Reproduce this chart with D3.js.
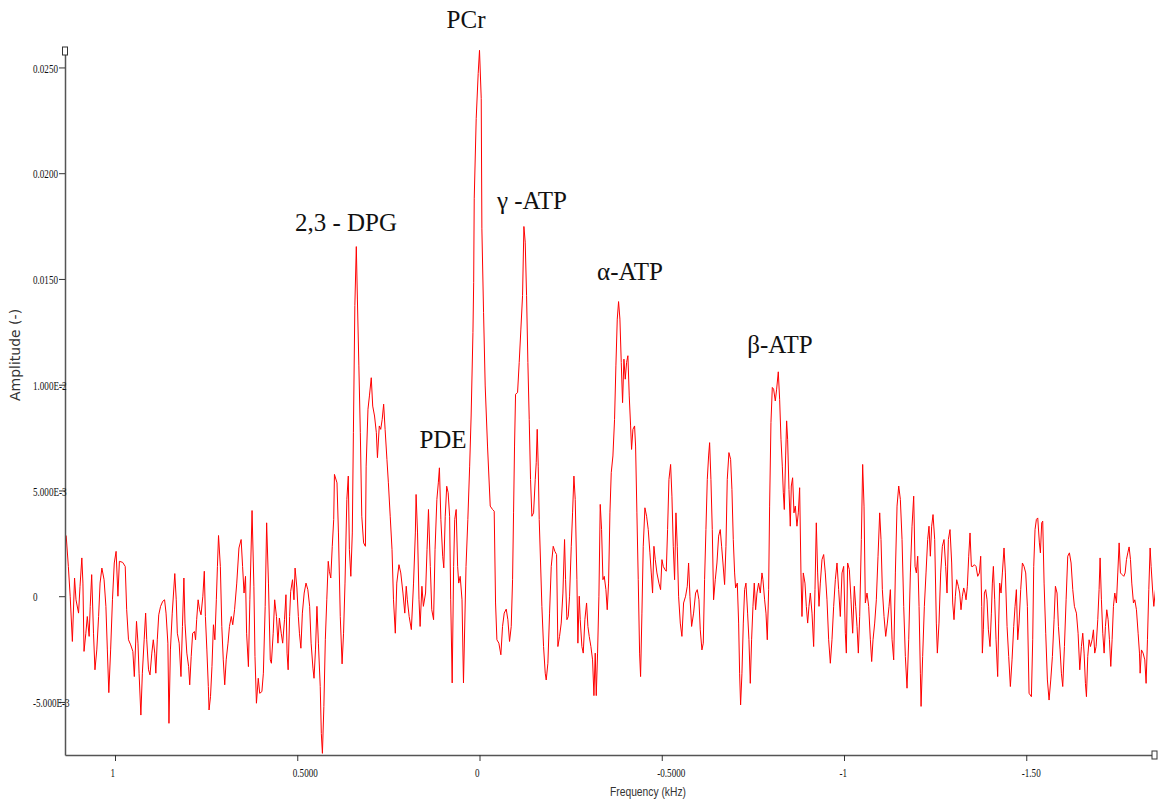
<!DOCTYPE html>
<html>
<head>
<meta charset="utf-8">
<script src="https://cdn.jsdelivr.net/npm/d3@7"></script>
<style>
  body { margin: 0; background: #fff; }
  #chart { width: 1158px; height: 803px; }
</style>
</head>
<body>
<div id="chart"></div>
<script>
// spectrum samples, frequency in kHz, amplitude in units of 1e-3
const freqKHz = [
  1.134,1.128,1.123,1.117,1.111,1.107,1.100,1.096,1.091,1.088,1.085,1.080,
  1.076,1.071,1.068,1.064,1.059,1.055,1.050,1.045,1.041,1.036,1.030,1.025,
  1.021,1.017,1.012,1.007,1.002,0.997,0.992,0.988,0.979,0.972,0.968,0.963,
  0.957,0.951,0.947,0.941,0.937,0.934,0.929,0.925,0.920,0.916,0.913,0.908,
  0.904,0.899,0.895,0.891,0.888,0.884,0.880,0.875,0.869,0.864,0.860,0.855,
  0.852,0.848,0.843,0.836,0.832,0.829,0.824,0.819,0.815,0.811,0.808,0.803,
  0.798,0.795,0.791,0.787,0.782,0.779,0.776,0.772,0.768,0.764,0.759,0.755,
  0.752,0.748,0.744,0.742,0.738,0.734,0.730,0.726,0.722,0.719,0.716,0.711,
  0.707,0.703,0.699,0.695,0.690,0.686,0.681,0.677,0.672,0.666,0.660,0.654,
  0.650,0.646,0.642,0.639,0.634,0.630,0.624,0.619,0.616,0.612,0.607,0.603,
  0.597,0.593,0.588,0.584,0.579,0.574,0.571,0.566,0.562,0.557,0.553,0.549,
  0.544,0.540,0.535,0.531,0.528,0.525,0.521,0.518,0.513,0.509,0.506,0.501,
  0.497,0.494,0.490,0.486,0.481,0.476,0.471,0.466,0.462,0.457,0.454,0.450,
  0.446,0.442,0.437,0.434,0.431,0.427,0.423,0.419,0.415,0.412,0.408,0.404,0.400,
  0.398,0.391,0.387,0.382,0.377,0.373,0.369,0.364,0.360,0.357,0.353,0.349,
  0.346,0.342,0.338,0.335,0.331,0.327,0.323,0.318,0.313,0.311,0.306,0.302,
  0.297,0.293,0.288,0.283,0.280,0.275,0.271,0.267,0.263,0.259,0.254,0.250,
  0.245,0.240,0.236,0.231,0.227,0.221,0.216,0.210,0.205,0.201,0.198,0.193,
  0.187,0.181,0.176,0.174,0.170,0.166,0.163,0.158,0.154,0.148,0.144,0.140,
  0.135,0.131,0.126,0.122,0.117,0.113,0.110,0.106,0.101,0.098,0.094,0.090,
  0.086,0.082,0.079,0.075,0.071,0.068,0.064,0.060,0.057,0.053,0.048,0.044,
  0.037,0.032,0.027,0.023,0.018,0.016,0.0145,0.0091,0.0036,0.0,-0.0047,
  -0.0065,-0.0111,-0.0156,-0.0220,-0.0294,-0.0358,-0.0403,-0.0440,-0.0477,-0.0531,-0.0586,-0.0632,
  -0.0678,-0.0733,-0.0778,-0.0824,-0.0870,-0.0907,-0.0934,-0.0961,-0.0989,-0.1044,-0.1089,-0.1135,
  -0.1181,-0.1218,-0.1254,-0.1291,-0.1327,-0.1364,-0.1400,-0.1437,-0.1483,-0.1529,-0.1556,-0.1583,
  -0.1611,-0.1638,-0.1675,-0.1711,-0.1757,-0.1803,-0.1830,-0.1876,-0.1922,-0.1968,-0.2022,-0.2068,
  -0.2114,-0.2150,-0.2196,-0.2242,-0.2288,-0.2333,-0.2361,-0.2398,-0.2434,-0.2471,-0.2517,-0.2553,
  -0.2590,-0.2626,-0.2672,-0.2699,-0.2736,-0.2763,-0.2809,-0.2846,-0.2891,-0.2937,-0.2974,-0.3010,
  -0.3056,-0.3102,-0.3139,-0.3175,-0.3203,-0.3239,-0.3276,-0.3312,-0.3349,-0.3386,-0.3422,-0.3468,
  -0.3504,-0.3541,-0.3578,-0.3614,-0.3660,-0.3705,-0.3742,-0.3779,-0.3815,-0.3852,-0.3889,-0.3925,
  -0.3962,-0.3998,-0.4035,-0.4071,-0.4108,-0.4145,-0.4172,-0.4209,-0.4254,-0.4282,-0.4318,-0.4355,
  -0.4392,-0.4419,-0.4456,-0.4492,-0.4538,-0.4584,-0.4629,-0.4675,-0.4712,-0.4748,-0.4785,-0.4822,
  -0.4867,-0.4922,-0.4968,-0.5005,-0.5041,-0.5087,-0.5124,-0.5160,-0.5197,-0.5243,-0.5279,-0.5316,
  -0.5352,-0.5389,-0.5425,-0.5462,-0.5508,-0.5553,-0.5599,-0.5654,-0.5700,-0.5736,-0.5773,-0.5819,
  -0.5873,-0.5928,-0.5974,-0.6020,-0.6056,-0.6102,-0.6139,-0.6175,-0.6212,-0.6249,-0.6285,-0.6313,
  -0.6349,-0.6386,-0.6422,-0.6468,-0.6514,-0.6560,-0.6605,-0.6642,-0.6679,-0.6724,-0.6761,-0.6797,-0.6843,
  -0.6889,-0.6925,-0.6962,-0.6999,-0.7026,-0.7072,-0.7109,-0.7136,-0.7163,-0.7200,-0.7237,-0.7273,
  -0.7310,-0.7355,-0.7392,-0.7429,-0.7465,-0.7502,-0.7538,-0.7575,-0.7612,-0.7657,-0.7703,-0.7749,
  -0.7776,-0.7822,-0.7859,-0.7895,-0.7932,-0.7959,-0.7996,-0.8033,-0.8069,-0.8115,-0.8152,-0.8197,
  -0.8234,-0.8271,-0.8307,-0.8335,-0.8362,-0.8399,-0.8426,-0.8453,-0.8490,-0.8526,-0.8554,-0.8590,
  -0.8627,-0.8664,-0.8709,-0.8746,-0.8783,-0.8819,-0.8847,-0.8883,-0.8929,-0.8966,-0.9003,-0.9039,
  -0.9076,-0.9122,-0.9167,-0.9204,-0.9240,-0.9277,-0.9314,-0.9350,-0.9396,-0.9442,-0.9487,-0.9533,
  -0.9579,-0.9625,-0.9670,-0.9716,-0.9762,-0.9808,-0.9853,-0.9899,-0.9945,-0.9991,-1.0036,-1.0064,
  -1.0100,-1.0146,-1.0192,-1.0238,-1.0283,-1.0320,-1.0357,-1.0393,-1.0430,-1.0476,-1.0512,-1.0549,
  -1.0585,-1.0631,-1.0677,-1.0723,-1.0759,-1.0796,-1.0842,-1.0887,-1.0933,-1.0979,-1.1015,-1.1052,
  -1.1098,-1.1144,-1.1189,-1.1235,-1.1272,-1.1318,-1.1363,-1.1409,-1.1455,-1.1501,-1.1546,-1.1592,
  -1.1638,-1.1683,-1.1729,-1.1775,-1.1821,-1.1866,-1.1912,-1.1949,-1.1985,-1.2022,-1.2059,-1.2095,
  -1.2114,-1.2158,-1.2204,-1.2250,-1.2295,-1.2332,-1.2369,-1.2405,-1.2442,-1.2488,-1.2533,-1.2561,
  -1.2606,-1.2652,-1.2698,-1.2744,-1.2789,-1.2826,-1.2863,-1.2908,
  -1.2954,-1.2982,-1.3018,-1.3055,-1.3091,-1.3137,-1.3174,-1.3210,-1.3247,-1.3284,-1.3320,-1.3348,
  -1.3384,-1.3421,-1.3457,-1.3494,-1.3540,-1.3576,-1.3622,-1.3668,-1.3714,-1.3750,-1.3778,-1.3796,
  -1.3823,-1.3851,-1.3887,-1.3924,-1.3961,-1.4006,-1.4043,-1.4070,-1.4098,-1.4134,-1.4171,-1.4216,
  -1.4244,-1.4271,-1.4308,-1.4345,-1.4390,-1.4427,-1.4473,-1.4518,-1.4564,-1.4610,-1.4656,-1.4692,
  -1.4729,-1.4766,-1.4802,-1.4848,-1.4894,-1.4939,-1.4985,-1.5031,-1.5077,-1.5141,-1.5177,-1.5205,
  -1.5241,-1.5278,-1.5315,-1.5360,-1.5388,-1.5424,-1.5452,-1.5489,-1.5534,-1.5580,-1.5626,-1.5672,
  -1.5717,-1.5763,-1.5800,-1.5845,-1.5882,-1.5928,-1.5964,-1.6001,-1.6047,-1.6093,-1.6138,-1.6184,
  -1.6230,-1.6276,-1.6321,-1.6376,-1.6422,-1.6468,-1.6513,-1.6550,-1.6587,-1.6623,-1.6651,-1.6687,
  -1.6724,-1.6761,-1.6806,-1.6843,-1.6879,-1.6916,-1.6962,-1.6998,-1.7026,-1.7062,-1.7099,-1.7136,
  -1.7172,-1.7209,-1.7246,-1.7282,-1.7319,-1.7355,-1.7392,-1.7429,-1.7474,-1.7511,-1.7548,-1.7584,
  -1.7630,-1.7676,-1.7712,-1.7749,-1.7786,-1.7822,-1.7859,-1.7895,-1.7941,-1.7978,-1.8023,-1.8069,
  -1.8106,-1.8124,-1.8160,-1.8206,-1.8252,-1.8288,-1.8325,-1.8362,-1.8398,-1.8426,-1.8471,-1.8499,-1.8545
];

const amplitudeE3 = [
  2.87,1.41,0.0,-2.14,0.86,-0.17,-0.80,0.47,1.81,0.62,-2.61,-1.75,
  -0.96,-1.90,-0.48,1.02,-1.75,-3.48,-2.54,-0.96,0.62,1.33,0.78,-0.48,
  -2.54,-4.56,-2.54,-0.17,1.57,2.12,0.0,1.65,1.60,1.41,-0.64,-2.06,
  -2.30,-2.61,-3.80,-1.19,-2.22,-3.64,-5.62,-3.64,-2.06,-0.80,-2.06,-3.48,
  -3.72,-2.69,-2.06,-2.69,-3.64,-2.06,-0.88,-0.48,-0.24,-0.17,-0.80,-2.22,
  -6.01,-2.54,-0.80,1.07,-0.17,-1.75,-2.22,-3.80,-1.43,0.86,-1.27,-2.69,
  -3.33,-4.19,-2.85,-1.75,-1.67,-2.06,-1.11,-0.17,-0.64,-0.88,0.0,1.18,
  -0.96,-2.54,-4.27,-5.38,-4.75,-3.33,-1.35,-2.06,-0.17,1.41,2.87,1.41,
  -1.43,-3.01,-4.19,-3.01,-2.22,-1.43,-0.96,-1.35,-0.64,0.62,2.28,2.68,
  1.41,0.15,0.94,-1.75,-3.33,-0.17,4.05,0.47,-2.85,-5.06,-3.88,-4.59,
  -4.51,-3.64,-0.48,3.47,0.62,-3.01,-3.17,-1.75,-0.17,-0.96,-2.22,-1.03,
  -1.75,-2.22,-1.11,0.07,-2.69,-3.48,-0.96,0.23,0.78,-0.17,1.33,0.39,
  -0.96,-1.75,-2.46,-0.80,0.15,0.62,0.31,-0.48,-2.22,-3.40,-3.88,-2.54,
  -0.48,-2.22,-4.27,-6.49,-7.43,-5.22,-2.06,-0.17,1.65,1.18,0.86,2.36,3.63,
  5.76,5.36,2.99,-0.96,-3.2,-1.75,0.62,4.57,5.68,2.20,0.94,2.99,
  7.73,13.74,16.53,14.05,10.89,7.73,3.78,2.52,2.36,6.15,8.84,9.47,
  10.33,8.99,8.52,7.73,6.55,8.05,7.89,8.36,9.08,7.89,6.47,5.36,
  3.78,2.20,-0.17,-1.75,0.62,1.49,1.10,0.15,-0.80,0.47,-0.17,-0.96,
  -1.58,0.62,2.99,4.81,2.99,-0.17,-1.43,0.47,-0.48,0.15,2.20,4.10,
  1.41,-0.64,-1.11,2.20,4.57,5.36,6.07,3.63,1.89,1.34,3.78,5.20,
  4.89,3.78,-0.17,-4.10,1.41,3.63,4.10,1.41,0.62,0.94,-0.17,-4.10,
  1.41,3.63,6.15,8.52,12.47,14.84,18.79,22.58,24.72,25.81,23.53,
  17.37,13.42,9.94,7.10,4.26,4.10,4.02,-0.32,-2.06,-2.22,-2.77,-1.43,
  -0.80,-0.61,-1.11,-2.14,-1.43,0.78,3.94,7.10,9.55,9.63,11.05,12.63,
  14.21,17.48,16.74,14.21,11.05,8.36,5.52,3.78,3.94,5.52,6.31,7.89,
  6.15,3.63,1.57,-0.48,-2.38,-3.64,-3.96,-3.17,-0.80,1.41,2.36,2.12,
  1.97,-2.38,-1.90,-1.27,0.15,2.68,0.78,-1.11,-0.96,0.0,2.36,3.94,
  5.68,4.57,0.78,-2.22,0.0,-1.11,-2.38,-2.69,-1.11,-0.32,-1.43,-1.90,
  -2.38,-3.01,-4.7,-2.69,-4.7,-2.69,0.0,4.34,3.15,0.78,0.94,0.31,
  -0.64,0.62,3.94,5.84,6.63,8.36,10.89,13.10,13.93,13.10,11.05,9.15,
  11.21,10.26,11.05,11.37,9.47,8.05,6.94,7.89,8.05,7.10,3.94,0.78,
  -2.69,-3.80,-0.80,2.36,4.18,3.78,3.15,2.05,1.10,0.15,2.36,1.73,
  1.10,0.62,0.31,1.73,1.41,1.26,1.18,3.15,5.52,6.23,4.73,2.36,
  0.78,3.94,2.36,0.0,-1.27,-1.90,-0.32,0.0,0.47,1.57,0.0,-1.43,
  -0.80,0.15,0.31,-0.17,-1.59,-2.54,-2.22,0.78,3.15,5.52,6.63,7.26,
  5.52,3.15,-0.17,0.78,1.57,2.84,3.15,2.36,1.57,0.55,2.36,5.52,6.79,
  6.47,5.05,2.68,1.10,0.39,0.62,-1.27,-3.64,-5.14,-3.64,-1.27,0.31,
  0.62,-0.80,-2.06,-4.12,-2.06,-0.48,0.62,-0.64,0.15,0.62,0.15,1.10,
  0.78,-0.17,-0.80,-2.06,0.31,4.26,8.21,9.87,9.79,9.23,9.79,10.61,
  9.31,7.42,6.15,4.89,4.10,6.63,8.29,7.42,5.05,3.31,5.21,5.60,
  3.94,4.26,3.31,3.94,5.13,1.10,-0.96,1.10,0.62,-0.48,-1.27,-0.48,
  0.15,-0.80,-2.38,0.31,3.47,1.10,-0.48,0.62,1.73,1.97,1.10,-0.17,
  -2.06,-3.17,-2.06,-0.48,0.78,1.57,0.31,-0.96,1.10,1.41,-1.75,-2.69,
  1.57,1.26,-0.17,-1.75,0.47,-0.48,-1.43,-2.69,-0.96,2.68,6.23,4.26,
  -0.32,0.15,-0.48,-2.06,-3.09,-2.06,-1.27,-0.17,1.89,3.94,2.68,0.31,
  -0.96,-1.90,-1.27,-0.48,0.31,-2.06,-3.01,1.10,4.26,5.21,4.57,2.68,
  -0.48,-2.85,-4.35,-2.06,1.10,3.31,4.73,1.41,1.10,1.89,-0.48,-3.64,
  -5.21,-2.85,-0.48,1.10,2.68,3.31,1.89,3.31,3.86,2.68,-1.27,-2.69,
  -1.27,1.10,2.36,2.68,1.41,0.15,2.68,3.15,
  1.57,-0.32,-1.11,0.0,0.78,0.47,0.15,-0.64,0.0,0.39,0.15,-0.17,
  0.47,1.89,2.99,1.41,1.41,1.49,1.41,0.94,1.10,1.89,-0.48,-2.69,
  -1.59,0.15,0.31,-0.17,-1.59,-2.38,-0.80,0.62,1.41,-0.17,-2.06,-3.80,
  -1.27,0.62,0.15,1.10,2.28,1.10,-1.43,-2.85,-4.27,-3.01,-1.43,-0.48,
  0.31,-2.06,-1.27,0.31,1.57,1.41,1.10,-0.48,-4.59,-4.75,-2.06,1.41,
  3.15,3.63,3.70,2.52,2.05,3.47,3.55,0.62,-1.75,-3.96,-4.91,-3.96,
  -2.85,-1.11,0.47,0.15,-1.43,-2.54,-3.64,-4.27,-2.38,-0.17,1.89,2.05,
  1.57,0.31,-0.48,-0.80,-1.75,-3.48,-2.38,-1.75,-2.69,-4.12,-4.75,-2.85,
  -2.06,-2.38,-2.06,-1.59,-2.69,-2.38,-1.11,0.31,1.81,-0.17,-1.75,-2.69,
  -1.43,-0.64,-1.11,-2.06,-3.32,-2.06,-0.48,0.15,-0.32,1.10,2.52,1.10,
  1.02,0.94,1.10,1.73,2.05,2.33,1.73,0.62,-0.32,-0.17,-0.64,-1.75,
  -2.69,-3.64,-2.54,-2.69,-3.01,-4.12,-2.06,0.31,2.28,1.41,0.15,-0.48,0.31
];

const yTickValues = [-0.005, 0, 0.005, 0.01, 0.015, 0.02, 0.025];
const yTickLabels = ['-5.000E-3', '0', '5.000E-3', '1.000E-2', '0.0150', '0.0200', '0.0250'];
const xTickValues = [1, 0.5, 0, -0.5, -1, -1.5];
const xTickLabels = ['1', '0.5000', '0', '-0.5000', '-1', '-1.50'];

// peak annotations, anchored in data units (kHz, 1e-3)
const peakNames = ['PCr', '2,3 - DPG', 'γ -ATP', 'α-ATP', 'PDE', 'β-ATP'];
const peakLabelFreq = [0.0370, 0.3663, -0.1440, -0.4129, 0.1001, -0.8244];
const peakLabelAmpE3 = [26.87, 17.27, 18.31, 14.96, 7.01, 11.50];

let width = 1158,
    height = 803,
    margin = {left: 65, top: 50, bottom: 48, right: 3},
    plotWidth = width - margin.left - margin.right,
    plotHeight = height - margin.top - margin.bottom;

let svg = d3.select('#chart').append('svg')
    .attr('width', width)
    .attr('height', height)
    .style('background', '#fff')
    .append('g')
    .attr('transform', `translate(${margin.left}, ${margin.top})`);

// x runs high -> low, like the scanner output
let xScale = d3.scaleLinear()
    .domain([1.1372, -1.8532])
    .range([0, plotWidth]);

let yScale = d3.scaleLinear()
    .domain([-0.007508, 0.025825])
    .range([plotHeight, 0]);

svg.append('clipPath')
    .attr('id', 'plot-clip')
    .append('rect')
    .attr('width', plotWidth)
    .attr('height', plotHeight + 1);

let line = d3.line()
    .x(i => xScale(freqKHz[i]))
    .y(i => yScale(amplitudeE3[i] * 1e-3));

svg.append('path')
    .datum(d3.range(freqKHz.length))
    .attr('clip-path', 'url(#plot-clip)')
    .attr('fill', 'none')
    .attr('stroke', '#ff0000')
    .attr('stroke-width', 1)
    .attr('d', line);

let yAxis = svg.append('g')
    .attr('class', 'y-axis')
    .call(d3.axisLeft(yScale)
        .tickValues(yTickValues)
        .tickFormat(d => yTickLabels[yTickValues.indexOf(d)])
        .tickSize(6)
        .tickSizeOuter(0));

let xAxis = svg.append('g')
    .attr('class', 'x-axis')
    .attr('transform', `translate(0, ${plotHeight})`)
    .call(d3.axisBottom(xScale)
        .tickValues(xTickValues)
        .tickFormat(d => xTickLabels[xTickValues.indexOf(d)])
        .tickSize(6)
        .tickSizeOuter(0));

[yAxis, xAxis].forEach(ax => {
    ax.select('.domain').attr('stroke', '#555').attr('stroke-width', 1.5);
    ax.selectAll('.tick line').attr('stroke', '#333');
    ax.selectAll('.tick text')
        .attr('fill', '#111')
        .style('font-family', '"Liberation Serif", serif')
        .style('font-size', '13px');
});

yAxis.selectAll('.tick text')
    .attr('x', 0)
    .attr('dy', '0.35em')
    .attr('text-anchor', 'start')
    .attr('transform', 'translate(-32,0) scale(0.7,1)');

xAxis.selectAll('.tick text')
    .attr('y', 22)
    .attr('dy', 0)
    .attr('text-anchor', 'start')
    .attr('transform', 'translate(-5,0) scale(0.7,1)');

// little end markers on both axes
svg.append('rect')
    .attr('x', -2.5).attr('y', -3)
    .attr('width', 5).attr('height', 8)
    .attr('fill', '#fff').attr('stroke', '#333');

svg.append('rect')
    .attr('x', plotWidth - 3).attr('y', plotHeight - 4)
    .attr('width', 5).attr('height', 8)
    .attr('fill', '#fff').attr('stroke', '#333');

svg.append('text')
    .attr('transform', `translate(${-45}, ${305}) rotate(-90)`)
    .attr('text-anchor', 'middle')
    .attr('fill', '#333')
    .style('font-family', '"DejaVu Sans", sans-serif')
    .style('font-size', '14px')
    .text('Amplitude (-)');

svg.append('text')
    .attr('x', 648 - margin.left - 38)
    .attr('y', 746)
    .attr('textLength', 76)
    .attr('lengthAdjust', 'spacingAndGlyphs')
    .attr('fill', '#333')
    .style('font-family', '"Liberation Sans", sans-serif')
    .style('font-size', '13px')
    .text('Frequency (kHz)');

svg.selectAll('.peak-label')
    .data(peakNames)
    .join('text')
    .attr('class', 'peak-label')
    .attr('x', (d, i) => xScale(peakLabelFreq[i]))
    .attr('y', (d, i) => yScale(peakLabelAmpE3[i] * 1e-3))
    .attr('text-anchor', 'middle')
    .attr('fill', '#111')
    .style('font-family', '"Liberation Serif", serif')
    .style('font-size', '25px')
    .text(d => d);
</script>
</body>
</html>
